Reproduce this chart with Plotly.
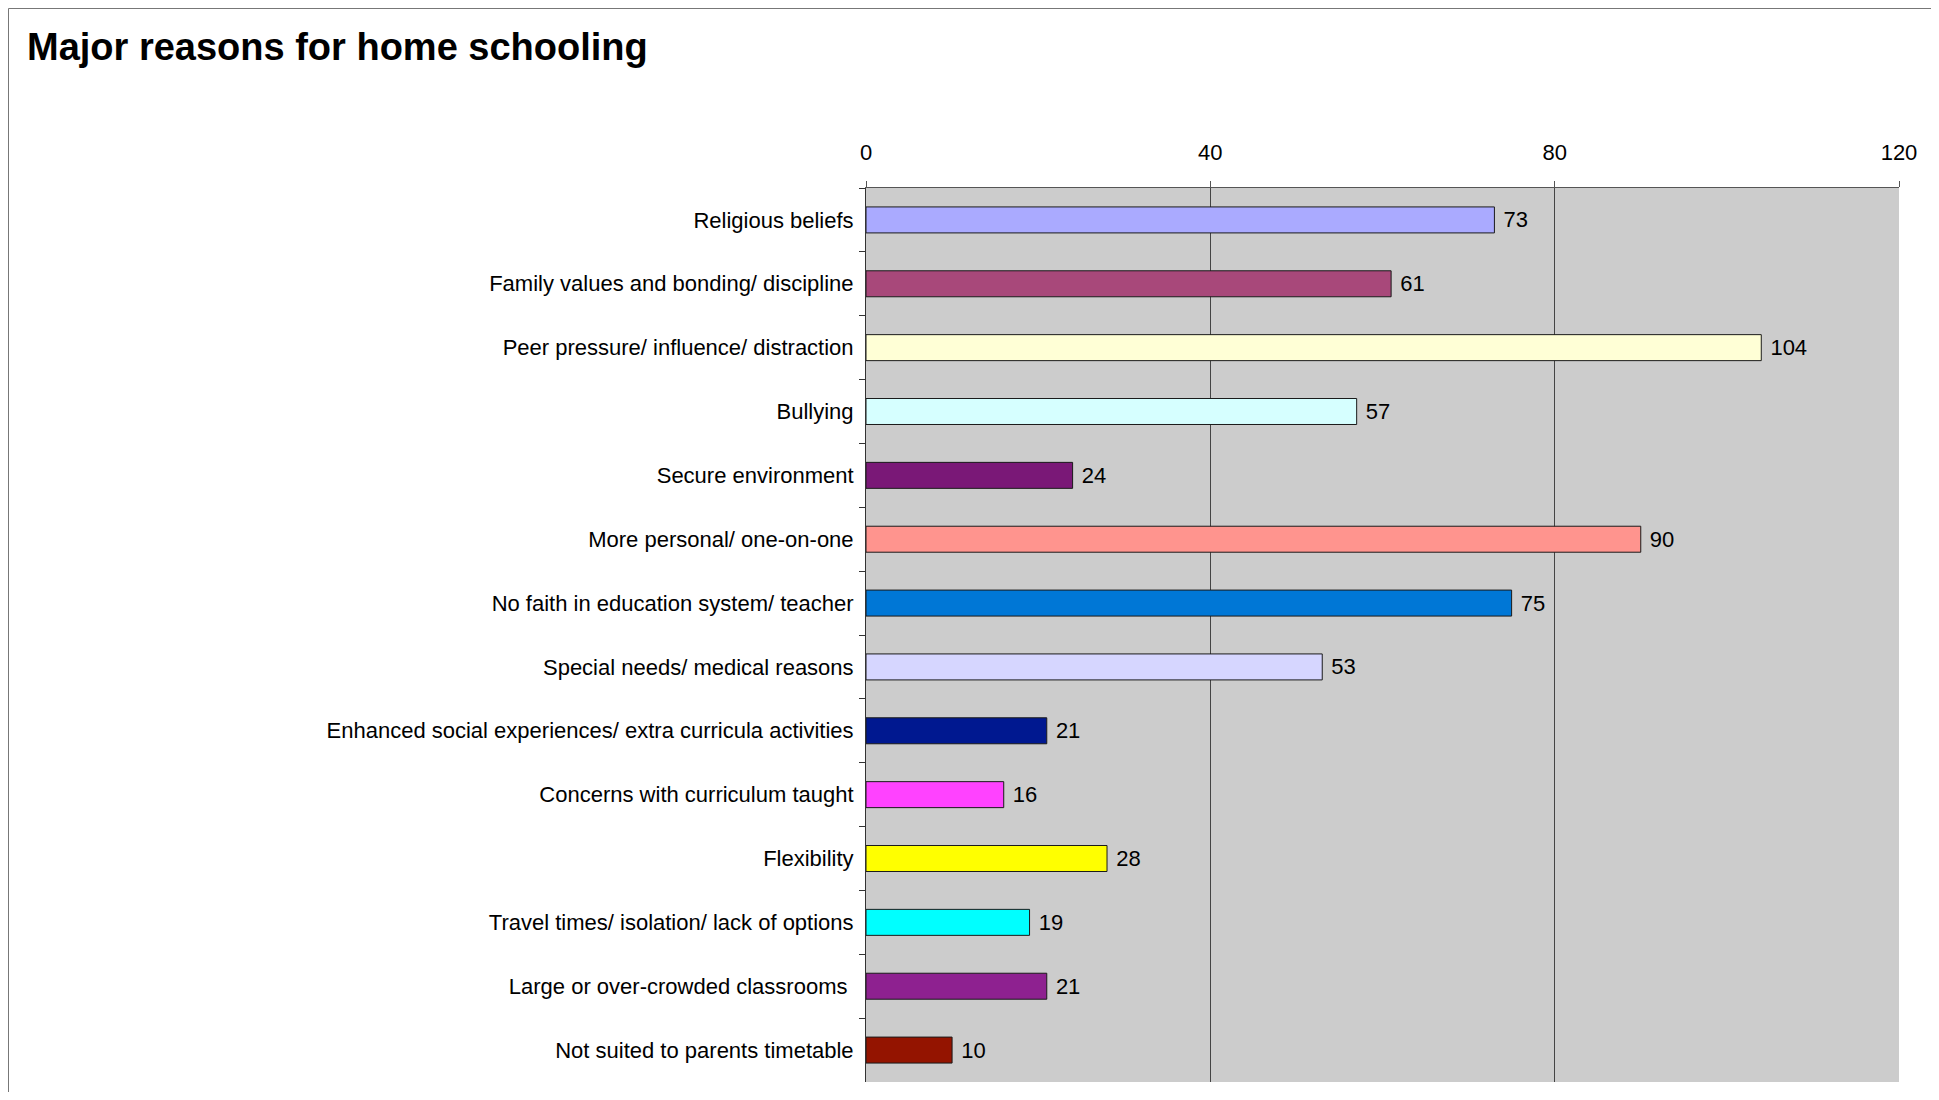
import plotly.graph_objects as go

categories = [
    "Religious beliefs",
    "Family values and bonding/ discipline",
    "Peer pressure/ influence/ distraction",
    "Bullying",
    "Secure environment",
    "More personal/ one-on-one",
    "No faith in education system/ teacher",
    "Special needs/ medical reasons",
    "Enhanced social experiences/ extra curricula activities",
    "Concerns with curriculum taught",
    "Flexibility",
    "Travel times/ isolation/ lack of options",
    "Large or over-crowded classrooms\u00a0",
    "Not suited to parents timetable",
]
values = [73, 61, 104, 57, 24, 90, 75, 53, 21, 16, 28, 19, 21, 10]
colors = [
    "#AAAAFF", "#A8487A", "#FFFFD6", "#D6FFFF", "#7A1877", "#FF948E", "#0077D6",
    "#D6D6FF", "#001890", "#FF42FF", "#FFFF00", "#00FFFF", "#8E2190", "#941400",
]
x_ticks = [0, 40, 80, 120]

# page has an 8px body margin; figure coords = page coords - 8
W, H = 1930, 1084
L, T = 858, 180
R = W - 1891
B = H - 1074
PW, PH = W - L - R, H - T - B


def px_x(px):
    return (px - L) / PW


def px_y(py):
    return (H - B - py) / PH


FONT = "Liberation Sans, Arial, sans-serif"

fig = go.Figure(
    go.Bar(
        y=categories,
        x=values,
        orientation="h",
        marker=dict(color=colors, line=dict(color="#1a1a1a", width=1)),
        text=values,
        texttemplate="\u00a0%{x}",
        textposition="outside",
        textfont=dict(family=FONT, size=22, color="#000"),
        cliponaxis=False,
        hoverinfo="skip",
    )
)

fig.update_layout(
    width=W,
    height=H,
    margin=dict(l=L, r=R, t=T, b=B, pad=0),
    paper_bgcolor="white",
    plot_bgcolor="#CCCCCC",
    bargap=0.593,
    showlegend=False,
    font=dict(family=FONT, size=22, color="#000"),
    title=dict(
        text="<b>Major reasons for home schooling</b>",
        font=dict(family=FONT, size=38, color="#000"),
        x=19 / W,
        xanchor="left",
        xref="container",
        y=1 - 39 / H,
        yanchor="middle",
        yref="container",
    ),
    xaxis=dict(
        side="top",
        range=[0, 120],
        tickvals=x_ticks,
        ticktext=[str(v) for v in x_ticks],
        showgrid=True,
        gridcolor="#444444",
        gridwidth=1,
        zeroline=False,
        showline=True,
        linecolor="#555555",
        linewidth=1,
        ticks="outside",
        ticklen=6,
        tickcolor="#555555",
        ticklabelstandoff=12,
        tickfont=dict(size=22),
        fixedrange=True,
    ),
    yaxis=dict(
        type="category",
        autorange="reversed",
        showgrid=False,
        zeroline=False,
        showline=True,
        linecolor="#333333",
        linewidth=1,
        ticks="outside",
        tickson="boundaries",
        ticklen=6,
        tickcolor="#333333",
        ticklabelstandoff=7,
        tickfont=dict(size=22),
        fixedrange=True,
    ),
    shapes=[
        dict(
            type="rect",
            xref="paper",
            yref="paper",
            x0=px_x(0.5),
            x1=px_x(W - 0.5),
            y0=px_y(H + 5),
            y1=px_y(0.5),
            line=dict(color="#777777", width=1),
            fillcolor="rgba(0,0,0,0)",
            layer="below",
        )
    ],
)

fig.write_html("out.html")
